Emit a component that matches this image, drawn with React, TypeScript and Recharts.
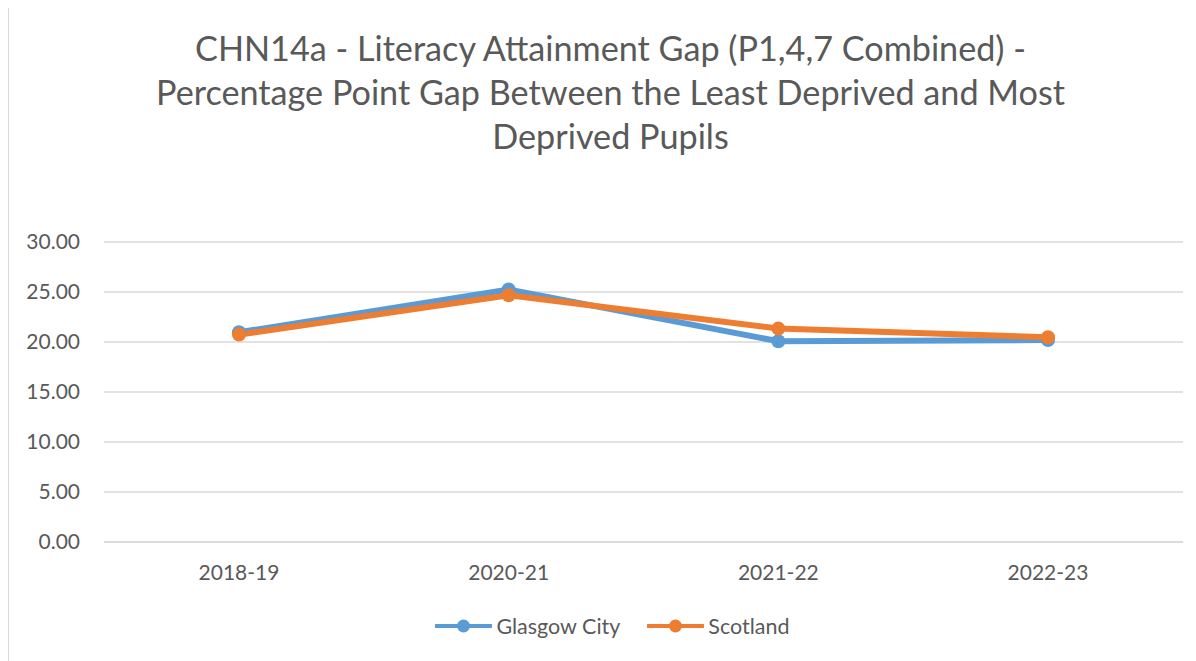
import React from 'react';
import { LineChart, Line, XAxis, YAxis, CartesianGrid, Legend } from 'recharts';

// Values
const years = ['2018-19', '2020-21', '2021-22', '2022-23'];
const glasgowCity = [20.97, 25.25, 20.07, 20.2];
const scotland = [20.74, 24.68, 21.34, 20.47];
const yTicks = [0, 5, 10, 15, 20, 25, 30];
const titleLines = [
    'CHN14a - Literacy Attainment Gap (P1,4,7 Combined) -',
    'Percentage Point Gap Between the Least Deprived and Most',
    'Deprived Pupils',
];

const series = [
    { key: 'glasgow', name: 'Glasgow City', color: '#5B9BD5' },
    { key: 'scotland', name: 'Scotland', color: '#ED7D31' },
];

const data = years.map((year, i) => ({
    year,
    glasgow: glasgowCity[i],
    scotland: scotland[i],
}));

const FONT = 'Lato, "Noto Sans", sans-serif';
const TEXT = '#595959';
const GRID = '#d9d9d9';

function LegendContent() {
    return (
        <div style={{ height: 30, display: 'flex', justifyContent: 'center', alignItems: 'center', paddingLeft: 33, fontFamily: FONT, fontSize: 21.5, color: TEXT }}>
            {series.map((s, i) => (
                <div key={s.key} style={{ display: 'flex', alignItems: 'center', marginLeft: i === 0 ? 0 : 27 }}>
                    <svg width={57} height={16} style={{ marginRight: 4 }}>
                        <line x1={1} y1={8} x2={56} y2={8} stroke={s.color} strokeWidth={4} strokeLinecap="round" />
                        <circle cx={28.5} cy={8} r={6.5} fill={s.color} />
                    </svg>
                    <span>{s.name}</span>
                </div>
            ))}
        </div>
    );
}

export default function App() {
    return (
        <div style={{ position: 'relative', marginTop: -4, width: 1188, height: 657, borderLeft: `1px solid ${GRID}`, borderTop: `1px solid ${GRID}`, boxSizing: 'border-box', background: '#fff', overflow: 'hidden' }}>
            <div style={{ position: 'absolute', top: 21, left: 0, width: '100%', paddingLeft: 16, boxSizing: 'border-box', textAlign: 'center', fontFamily: FONT, fontSize: 34.2, lineHeight: '44px', color: TEXT }}>
                {titleLines.map((line) => (
                    <div key={line}>{line}</div>
                ))}
            </div>

            <LineChart width={1187} height={656} data={data} margin={{ top: 237, right: 13, left: 0, bottom: 59 }}>
                <CartesianGrid vertical={false} stroke={GRID} strokeWidth={1.5} />
                <XAxis
                    dataKey="year"
                    height={30}
                    padding={{ left: 135, right: 135 }}
                    axisLine={{ stroke: GRID, strokeWidth: 1.5 }}
                    tickLine={false}
                    tickSize={0}
                    tickMargin={23}
                    tick={{ fill: TEXT, fontSize: 21, fontFamily: FONT }}
                />
                <YAxis
                    width={95}
                    domain={[0, 30]}
                    ticks={yTicks}
                    axisLine={false}
                    tickLine={false}
                    tickSize={0}
                    tickMargin={24}
                    tickFormatter={(v: number) => v.toFixed(2)}
                    tick={{ fill: TEXT, fontSize: 21, fontFamily: FONT }}
                />
                <Legend verticalAlign="bottom" content={<LegendContent />} wrapperStyle={{ bottom: 20 }} />
                {series.map((s) => (
                    <Line
                        key={s.key}
                        name={s.name}
                        dataKey={s.key}
                        type="linear"
                        stroke={s.color}
                        strokeWidth={6}
                        dot={{ r: 7, fill: s.color, stroke: 'none' }}
                        activeDot={false}
                        isAnimationActive={false}
                    />
                ))}
            </LineChart>
        </div>
    );
}
